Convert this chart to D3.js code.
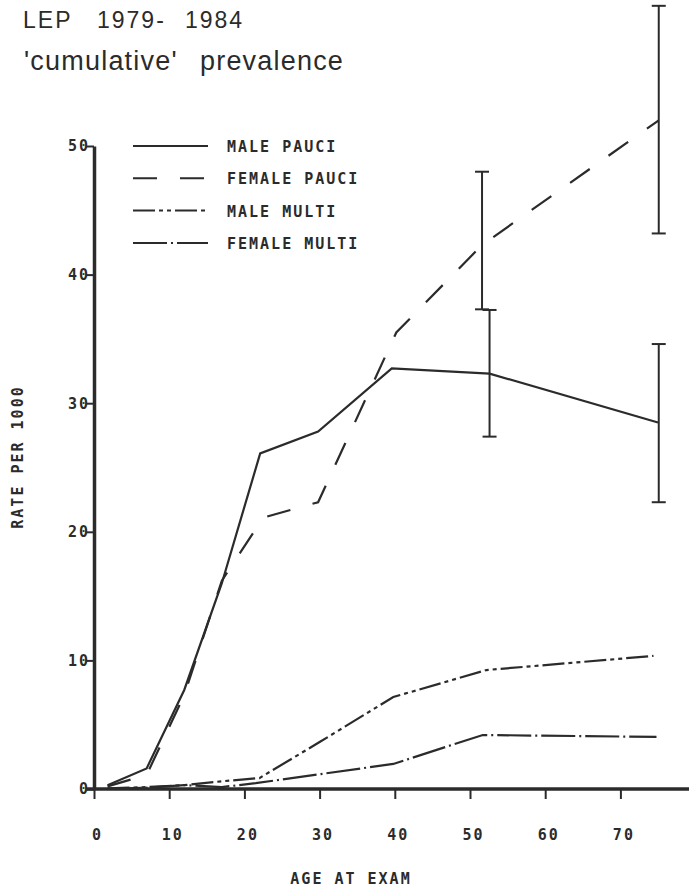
<!DOCTYPE html>
<html>
<head>
<meta charset="utf-8">
<script src="https://cdn.jsdelivr.net/npm/d3@7"></script>
<style>
  body { margin: 0; background: #fff; }
  svg { display: block; }
  .title { font-family: "Liberation Sans", Arial, sans-serif; fill: #2b2b2b; }
  .lbl { font-family: "DejaVu Sans Mono", monospace; font-weight: bold; font-size: 15px; letter-spacing: 2px; fill: #2b2b2b; }
</style>
</head>
<body>
<svg width="689" height="889"></svg>
<script>
//series: age at exam (group mean) and rate per 1000
var malePauciAge   = [1.8, 7, 12, 17, 22.1, 29.8, 39.6, 52.6, 75];
var malePauci      = [0.3, 1.6, 7.7, 16.0, 26.1, 27.8, 32.7, 32.3, 28.5];
var femalePauciAge = [1.8, 7, 12, 17, 22.5, 29.8, 40.2, 51.6, 75.1];
var femalePauci    = [0.2, 1.1, 7.3, 16.2, 21.1, 22.3, 35.5, 42.3, 52.0];
var maleMultiAge   = [1.8, 7, 12, 17, 22, 30, 39.8, 52.2, 74.4];
var maleMulti      = [0.05, 0.15, 0.3, 0.6, 0.85, 3.65, 7.15, 9.25, 10.35];
var femaleMultiAge = [1.8, 7, 12, 17, 21.5, 30, 39.8, 51.7, 74.8];
var femaleMulti    = [0.0, 0.1, 0.3, 0.15, 0.45, 1.15, 1.95, 4.2, 4.05];

//error bars (pauci only)
var errAge = [52.6, 51.6, 75.1, 75.1];
var errLo  = [27.4, 37.3, 22.3, 43.2];
var errHi  = [37.25, 48.0, 34.6, 60.9];

var seriesNames = ["MALE PAUCI", "FEMALE PAUCI", "MALE MULTI", "FEMALE MULTI"];
var xTicks = [0, 10, 20, 30, 40, 50, 60, 70];
var yTicks = [0, 10, 20, 30, 40, 50];

var ink = "#2b2b2b";
var dashes = [null, "24,23", "22,4,4,4,4,4", "34,4,2,4"];

var svg = d3.select("svg");

var x = d3.scaleLinear().domain([0, 80]).range([94, 695.6]);
var y = d3.scaleLinear().domain([0, 50]).range([789, 146]);

//title
var t1 = svg.append("text").attr("class", "title")
    .attr("y", 28).style("font-size", "23px").style("letter-spacing", "2px");
t1.append("tspan").attr("x", 23).text("LEP");
t1.append("tspan").attr("x", 97).text("1979-");
t1.append("tspan").attr("x", 185).text("1984");

var t2 = svg.append("text").attr("class", "title")
    .attr("y", 70).style("font-size", "27px").style("letter-spacing", "1.2px");
t2.append("tspan").attr("x", 24).text("'cumulative'");
t2.append("tspan").attr("x", 200).text("prevalence");

//axes
var yAxis = svg.append("g")
    .attr("transform", "translate(" + x(0) + ",0)")
    .call(d3.axisLeft(y).tickValues(yTicks).tickSize(8).tickSizeOuter(0).tickPadding(4));

var xAxis = svg.append("g")
    .attr("transform", "translate(0," + y(0) + ")")
    .call(d3.axisBottom(x).tickValues(xTicks).tickSize(10).tickSizeOuter(0).tickPadding(30));

svg.selectAll(".domain").attr("stroke", ink).attr("stroke-width", 3.5);
svg.selectAll(".tick line").attr("stroke", ink).attr("stroke-width", 2);
svg.selectAll(".tick text").attr("class", "lbl").attr("font-size", null).attr("font-family", null);
xAxis.selectAll(".tick text").attr("dx", 3);
yAxis.selectAll(".tick text").attr("dx", 8);

//extend x axis line a little left of y axis
xAxis.select(".domain").attr("d", "M" + (x(0) - 8) + ",0H689");

//axis titles
svg.append("text").attr("class", "lbl")
    .attr("x", 351).attr("y", 884).attr("text-anchor", "middle")
    .text("AGE AT EXAM");

svg.append("text").attr("class", "lbl")
    .attr("transform", "translate(23,457) rotate(-90)")
    .attr("text-anchor", "middle")
    .text("RATE PER 1000");

//lines
var lineGen = d3.line()
    .x(function (d) { return x(d[0]); })
    .y(function (d) { return y(d[1]); });

var series = [
    d3.zip(malePauciAge, malePauci),
    d3.zip(femalePauciAge, femalePauci),
    d3.zip(maleMultiAge, maleMulti),
    d3.zip(femaleMultiAge, femaleMulti)
];

svg.selectAll(".series")
    .data(series)
    .enter()
    .append("path")
    .attr("class", "series")
    .attr("fill", "none")
    .attr("stroke", ink)
    .attr("stroke-width", 2.2)
    .attr("stroke-dasharray", function (d, i) { return dashes[i]; })
    .attr("d", lineGen);

//error bars
var bars = svg.selectAll(".err")
    .data(d3.range(errAge.length))
    .enter()
    .append("g")
    .attr("class", "err")
    .attr("stroke", ink)
    .attr("stroke-width", 2);

bars.append("line")
    .attr("x1", function (i) { return x(errAge[i]); })
    .attr("x2", function (i) { return x(errAge[i]); })
    .attr("y1", function (i) { return y(errLo[i]); })
    .attr("y2", function (i) { return y(errHi[i]); });

bars.append("line")
    .attr("x1", function (i) { return x(errAge[i]) - 7; })
    .attr("x2", function (i) { return x(errAge[i]) + 7; })
    .attr("y1", function (i) { return y(errLo[i]); })
    .attr("y2", function (i) { return y(errLo[i]); });

bars.append("line")
    .attr("x1", function (i) { return x(errAge[i]) - 7; })
    .attr("x2", function (i) { return x(errAge[i]) + 7; })
    .attr("y1", function (i) { return y(errHi[i]); })
    .attr("y2", function (i) { return y(errHi[i]); });

//legend
var legend = svg.selectAll(".legend")
    .data(seriesNames)
    .enter()
    .append("g")
    .attr("class", "legend")
    .attr("transform", function (d, i) { return "translate(133," + (152 + i * 32.3) + ")"; });

legend.append("line")
    .attr("x1", 0).attr("x2", 75)
    .attr("y1", -6).attr("y2", -6)
    .attr("stroke", ink)
    .attr("stroke-width", 2)
    .attr("stroke-dasharray", function (d, i) { return dashes[i]; });

legend.append("text")
    .attr("class", "lbl")
    .attr("x", 94)
    .text(function (d) { return d; });
</script>
</body>
</html>
